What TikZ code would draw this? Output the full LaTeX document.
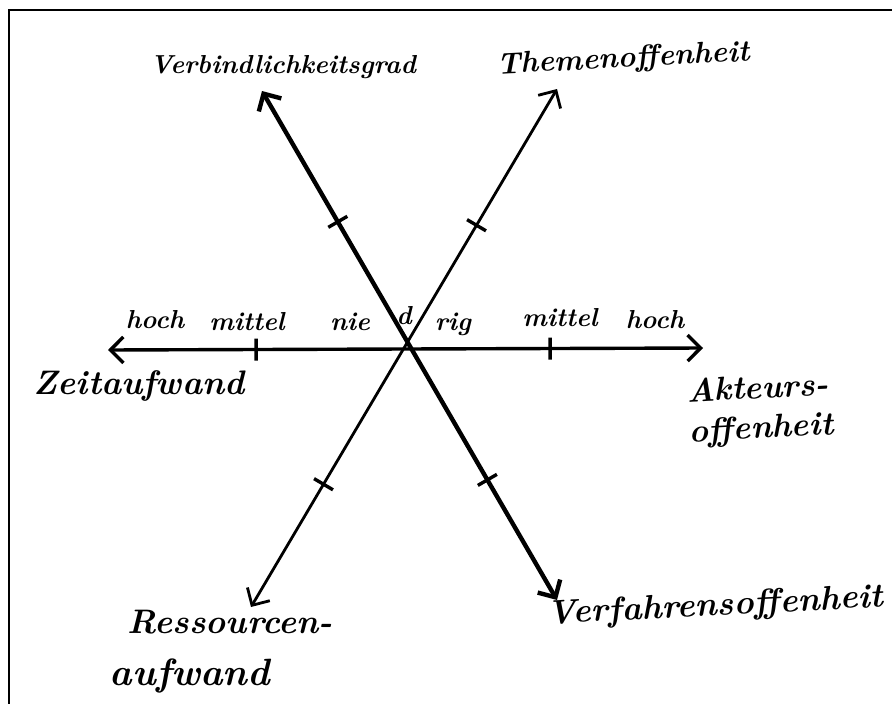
\documentclass[tikz,border=0pt]{standalone}
\usetikzlibrary{arrows.meta,calc}
\begin{document}
\begin{tikzpicture}[x=1pt,y=-1pt,
  tip/.tip={Straight Barb[length=13pt,width=26pt]},
  axis/.style={line width=3.4pt, tip-tip},
  tickmark/.style={line width=3.4pt},
  title/.style={font=\fontsize{34}{38}\selectfont\bfseries\itshape, inner sep=0pt},
  scl/.style={font=\fontsize{26}{30}\selectfont\bfseries\itshape, inner sep=0pt}]
\useasboundingbox (0,0) rectangle (892,704);
\fill[white] (0,0) rectangle (892,704);
\draw[line width=2.5pt] (9,704) -- (9,10) -- (892,10);

% axis end points
\coordinate (ZL) at (108,350);
\coordinate (AR) at (703,348);
\coordinate (VG) at (262,91);
\coordinate (VO) at (557,600);
\coordinate (TO) at (557,89);
\coordinate (RA) at (251,607);

\draw[axis] (ZL) -- (AR);
\draw[axis, line width=4.4pt] (VG) -- (VO);
\draw[axis, line width=2.8pt] (TO) -- (RA);

% tick positions
\coordinate (h1) at ($(ZL)!0.249!(AR)$);
\coordinate (h2) at ($(ZL)!0.743!(AR)$);
\coordinate (v1) at ($(VG)!0.257!(VO)$);
\coordinate (v2) at ($(VG)!0.764!(VO)$);
\coordinate (t1) at ($(TO)!0.263!(RA)$);
\coordinate (t2) at ($(TO)!0.763!(RA)$);

\foreach \p/\e in {h1/AR,h2/AR,v1/VO,v2/VO,t1/RA,t2/RA}{
  \draw[tickmark] ($(\p)!11pt!90:(\e)$) -- ($(\p)!11pt!-90:(\e)$);
}

% axis titles
\node[title, font=\fontsize{26}{30}\selectfont\bfseries\itshape] (vgl) at (283,67) {Verbindlichkeitsgrad};
\node[title, font=\fontsize{30}{36}\selectfont\bfseries\itshape, rotate=3] (tol) at (623,60) {Themenoffenheit};
\node[title] (zal) at (139,386) {Zeitaufwand};
\node[title, font=\fontsize{33}{40}\selectfont\bfseries\itshape, align=left, rotate=3] (aol) at (760,410) {Akteurs-\\offenheit};
\node[title] (ra1) at (230,622) {Ressourcen-};
\node[title, font=\fontsize{38}{44}\selectfont\bfseries\itshape] (ra2) at (190,676) {aufwand};
\node[title, font=\fontsize{34}{44}\selectfont\bfseries\itshape, rotate=3] (vol) at (715,607) {Verfahrensoffenheit};

% scale labels
\node[scl] (hl) at (155,320) {hoch};
\node[scl] (ml) at (247,322) {mittel};
\node[scl] (n1) at (350,322) {nie};
\node[scl] (n2) at (404,316) {d};
\node[scl] (n3) at (453,324) {rig};
\node[scl] (mr) at (560,318) {mittel};
\node[scl] (hr) at (655,320) {hoch};
\end{tikzpicture}
\end{document}
